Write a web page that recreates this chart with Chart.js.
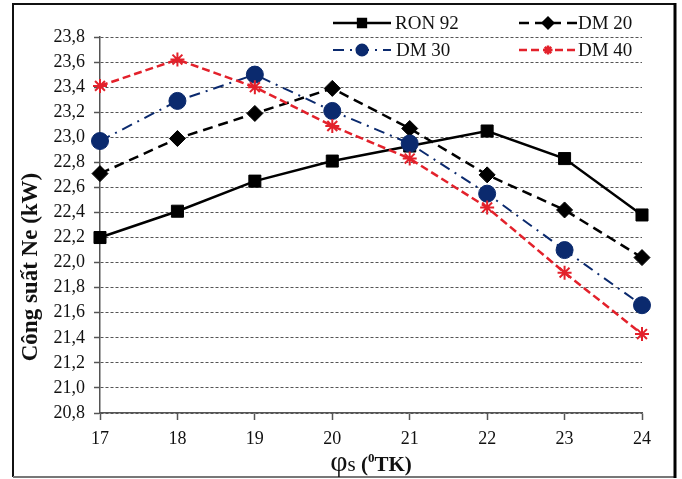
<!DOCTYPE html>
<html>
<head>
<meta charset="utf-8">
<script src="https://cdn.jsdelivr.net/npm/chart.js@4.4.0/dist/chart.umd.min.js"></script>
<style>
  body { margin: 0; background: #fff; }
  #wrap { width: 682px; height: 479px; }
</style>
</head>
<body>
<div id="wrap"><canvas id="ne" width="682" height="479"></canvas></div>
<script>
// goc phun som (do TK) va cong suat Ne (kW)
const xLabels = ["17", "18", "19", "20", "21", "22", "23", "24"];
const ron92 = [22.20, 22.41, 22.65, 22.81, 22.93, 23.05, 22.83, 22.38];
const dm20 = [22.71, 22.99, 23.19, 23.39, 23.07, 22.70, 22.42, 22.04];
const dm30 = [22.97, 23.29, 23.50, 23.21, 22.95, 22.55, 22.10, 21.66];
const dm40 = [23.41, 23.62, 23.40, 23.09, 22.83, 22.44, 21.92, 21.43];
const seriesNames = ["RON 92", "DM 20", "DM 30", "DM 40"];
const yMin = 20.8, yMax = 23.8, yStep = 0.2;

const serif = "'Liberation Serif', 'Times New Roman', serif";

// khung, chu thich va ten truc ve tay
const decorPlugin = {
  id: "decor",
  beforeDraw(chart) {
    const ctx = chart.ctx;
    ctx.save();
    ctx.fillStyle = "#fff";
    ctx.fillRect(0, 0, chart.width, chart.height);
    ctx.strokeStyle = "#111";
    ctx.lineWidth = 2;
    ctx.beginPath();
    ctx.moveTo(13, 477); ctx.lineTo(13, 4); ctx.lineTo(675, 4);
    ctx.stroke();
    ctx.strokeStyle = "#777";
    ctx.beginPath();
    ctx.moveTo(13, 477); ctx.lineTo(675, 477);
    ctx.stroke();
    ctx.strokeStyle = "#000";
    ctx.lineWidth = 3;
    ctx.beginPath();
    ctx.moveTo(675, 3); ctx.lineTo(675, 478);
    ctx.stroke();
    ctx.restore();
  },
  afterDraw(chart) {
    const ctx = chart.ctx;
    ctx.save();
    // y title
    ctx.fillStyle = "#111";
    ctx.translate(31, 267);
    ctx.rotate(-Math.PI / 2);
    ctx.font = "bold 23px " + serif;
    ctx.textAlign = "center";
    ctx.textBaseline = "middle";
    ctx.fillText("Công suất Ne (kW)", 0, 0);
    ctx.restore();

    // x title: φs (⁰TK)
    ctx.save();
    ctx.fillStyle = "#111";
    ctx.textBaseline = "alphabetic";
    const parts = [
      { t: "φ", f: "30px " + serif, dy: 0 },
      { t: "s", f: "21px " + serif, dy: 0 },
      { t: " (", f: "bold 21px " + serif, dy: 0 },
      { t: "0", f: "bold 13px " + serif, dy: -9 },
      { t: "TK)", f: "bold 21px " + serif, dy: 0 },
    ];
    let total = 0;
    parts.forEach(p => { ctx.font = p.f; p.w = ctx.measureText(p.t).width; total += p.w; });
    const ca = chart.chartArea;
    let x = (ca.left + ca.right) / 2 - total / 2;
    parts.forEach(p => {
      ctx.font = p.f;
      ctx.fillText(p.t, x, 471 + p.dy);
      x += p.w;
    });
    ctx.restore();

    // legend
    const slots = [
      { cx: 362, y: 23, tx: 395 },
      { cx: 548, y: 23, tx: 578 },
      { cx: 362, y: 50, tx: 396 },
      { cx: 548, y: 50, tx: 578 },
    ];
    chart.data.datasets.forEach((ds, i) => {
      const s = slots[i];
      ctx.save();
      ctx.strokeStyle = ds.borderColor;
      ctx.lineWidth = ds.borderWidth;
      ctx.setLineDash(ds.borderDash || []);
      ctx.beginPath();
      ctx.moveTo(s.cx - 29, s.y);
      ctx.lineTo(s.cx + 29, s.y);
      ctx.stroke();
      ctx.setLineDash([]);
      ctx.fillStyle = ds.pointBackgroundColor;
      ctx.strokeStyle = ds.pointBorderColor;
      if (Chart.helpers && Chart.helpers.drawPoint) {
        Chart.helpers.drawPoint(ctx, {
          pointStyle: ds.pointStyle,
          radius: ds.pointRadius * 0.65,
          borderWidth: ds.pointBorderWidth,
          rotation: 0
        }, s.cx, s.y);
      }
      ctx.fillStyle = "#111";
      ctx.font = "19px " + serif;
      ctx.textAlign = "left";
      ctx.textBaseline = "middle";
      ctx.fillText(ds.label, s.tx, s.y + 1);
      ctx.restore();
    });
  }
};

const ctx = document.getElementById("ne");

new Chart(ctx, {
  type: "line",
  data: {
    labels: xLabels,
    datasets: [
      {
        label: seriesNames[0],
        data: ron92,
        borderColor: "#000",
        borderWidth: 2.5,
        pointStyle: "rect",
        pointRadius: 8.5,
        pointBackgroundColor: "#000",
        pointBorderColor: "#000",
        pointBorderWidth: 1,
        order: 4,
      },
      {
        label: seriesNames[1],
        data: dm20,
        borderColor: "#000",
        borderWidth: 2.5,
        borderDash: [10, 6],
        pointStyle: "rectRot",
        pointRadius: 8,
        pointBackgroundColor: "#000",
        pointBorderColor: "#000",
        pointBorderWidth: 1,
        order: 3,
      },
      {
        label: seriesNames[2],
        data: dm30,
        borderColor: "#0b2a6e",
        borderWidth: 2,
        borderDash: [11, 6, 2, 6],
        pointStyle: "circle",
        pointRadius: 8.5,
        pointBackgroundColor: "#0b2a6e",
        pointBorderColor: "#0b2a6e",
        pointBorderWidth: 1,
        order: 2,
      },
      {
        label: seriesNames[3],
        data: dm40,
        borderColor: "#e3212b",
        borderWidth: 2.5,
        borderDash: [8, 4],
        pointStyle: "star",
        pointRadius: 7,
        pointBackgroundColor: "#e3212b",
        pointBorderColor: "#e3212b",
        pointBorderWidth: 2,
        order: 1,
      },
    ],
  },
  options: {
    responsive: false,
    animation: false,
    layout: { padding: { top: 37, right: 40, left: 0, bottom: 0 } },
    plugins: {
      legend: { display: false },
      tooltip: { enabled: false },
    },
    scales: {
      x: {
        offset: false,
        afterFit(scale) { scale.height = 66; },
        grid: { drawOnChartArea: false, drawTicks: true, tickLength: 7, tickColor: "#555", tickWidth: 1.5 },
        border: { color: "#555", width: 1.5 },
        ticks: { color: "#111", padding: 8, font: { family: serif, size: 18 } },
      },
      y: {
        min: yMin,
        max: yMax,
        afterFit(scale) { scale.width = 100; },
        grid: { color: "#555", lineWidth: 1, tickLength: 6, tickColor: "#555", tickWidth: 1.5, tickBorderDash: [] },
        border: { color: "#555", width: 1.5, dash: [3, 2] },
        ticks: {
          stepSize: yStep,
          color: "#111",
          padding: 9,
          font: { family: serif, size: 18 },
          callback: (v) => Number(v).toFixed(1).replace(".", ","),
        },
      },
    },
  },
  plugins: [decorPlugin],
});
</script>
</body>
</html>
